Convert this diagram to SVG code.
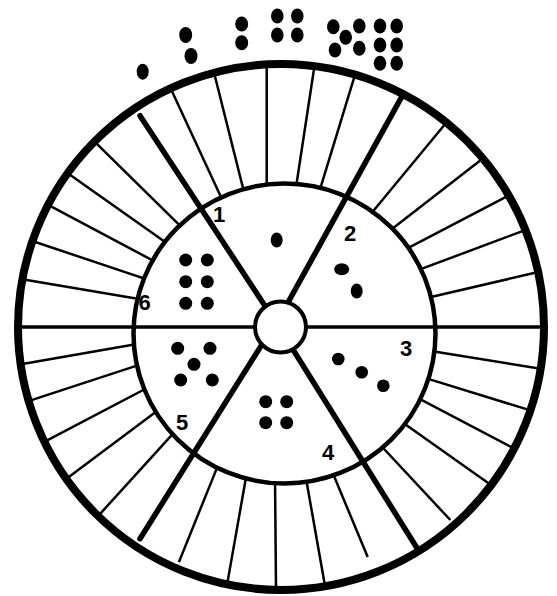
<svg xmlns="http://www.w3.org/2000/svg" width="557" height="596" viewBox="0 0 557 596">
<style>
.tick{stroke:#000;stroke-width:2.5;fill:none}
.spoke{stroke:#000;stroke-width:5.5;fill:none}
.dot{fill:#000}
.lbl{font-family:"Liberation Sans",Arial,sans-serif;font-weight:bold;font-size:22px;fill:#000;text-anchor:middle}
</style>
<rect width="557" height="596" fill="#fff"/>
<g id="ticks" class="tick">
<line x1="266.7" y1="66.3" x2="266.7" y2="191.7"/>
<line x1="214.3" y1="73.8" x2="245.1" y2="196.4"/>
<line x1="171.4" y1="90" x2="224.2" y2="204.1"/>
<line x1="96.1" y1="143.2" x2="184.8" y2="230.3"/>
<line x1="69.2" y1="174.3" x2="171.5" y2="246.5"/>
<line x1="49.1" y1="205.3" x2="158.8" y2="263.7"/>
<line x1="34.5" y1="241.7" x2="151.2" y2="280.9"/>
<line x1="23.7" y1="279.5" x2="144.9" y2="300"/>
<line x1="314.2" y1="67.7" x2="295.5" y2="190.6"/>
<line x1="354.6" y1="76.1" x2="318.4" y2="194.6"/>
<line x1="445.2" y1="124" x2="368.3" y2="217"/>
<line x1="481.5" y1="159.6" x2="388.1" y2="232.1"/>
<line x1="507" y1="196.3" x2="403.1" y2="250.6"/>
<line x1="523.8" y1="230.6" x2="415.3" y2="271.2"/>
<line x1="536.1" y1="272.5" x2="425.6" y2="298.3"/>
<line x1="22.5" y1="363.9" x2="139.9" y2="343.6"/>
<line x1="30.7" y1="400.4" x2="142.2" y2="363.9"/>
<line x1="46.2" y1="440.9" x2="148.9" y2="387"/>
<line x1="67.8" y1="477.7" x2="160.7" y2="408.3"/>
<line x1="99.7" y1="514.3" x2="176" y2="430.3"/>
<line x1="178.9" y1="562.1" x2="218.8" y2="463.4"/>
<line x1="227.6" y1="581.6" x2="246.7" y2="473.5"/>
<line x1="276" y1="587.3" x2="275" y2="476"/>
<line x1="324.8" y1="584.7" x2="305.3" y2="474.5"/>
<line x1="367.7" y1="557" x2="331.5" y2="470.1"/>
<line x1="450.3" y1="520" x2="378.5" y2="443"/>
<line x1="489.6" y1="483.9" x2="399.5" y2="420.2"/>
<line x1="512.8" y1="447.9" x2="414.8" y2="396.4"/>
<line x1="528.9" y1="409.9" x2="422.5" y2="377.1"/>
<line x1="539" y1="368.6" x2="427.8" y2="350.4"/>
</g>
<ellipse id="inner-circle" cx="284.5" cy="333.5" rx="151" ry="150" fill="#fff" stroke="#000" stroke-width="4.5"/>
<g id="spokes">
<line x1="15" y1="327" x2="547" y2="327" stroke="#000" stroke-width="3.5"/>
<line class="spoke" x1="140" y1="115.7" x2="268.8" y2="311.7" stroke-linecap="round"/>
<line class="spoke" x1="403.2" y1="94.2" x2="285.5" y2="307"/>
<line class="spoke" x1="291.7" y1="347.5" x2="419.3" y2="551.8"/>
<line class="spoke" x1="140" y1="538.7" x2="263.6" y2="341.8" stroke-linecap="round"/>
</g>
<circle id="hub" cx="280.5" cy="327" r="25.5" fill="#fff" stroke="#000" stroke-width="4"/>
<circle id="outer-circle" cx="281" cy="327" r="263" fill="none" stroke="#000" stroke-width="8"/>
<g id="sector-1">
<ellipse class="dot" cx="276.7" cy="240" rx="6" ry="7.5"/>
<text class="lbl" x="219" y="222">1</text>
</g>
<g id="sector-2">
<ellipse class="dot" cx="341.7" cy="269.3" rx="7.5" ry="6"/>
<ellipse class="dot" cx="356.7" cy="291" rx="6" ry="7.5"/>
<text class="lbl" x="350" y="241">2</text>
</g>
<g id="sector-3">
<circle class="dot" cx="338.3" cy="359" r="6.3"/>
<circle class="dot" cx="361.7" cy="372.3" r="6.3"/>
<circle class="dot" cx="383.3" cy="385.7" r="6.3"/>
<text class="lbl" x="406" y="356">3</text>
</g>
<g id="sector-4">
<circle class="dot" cx="265.7" cy="401.7" r="6.5"/>
<circle class="dot" cx="286.7" cy="401.7" r="6.5"/>
<circle class="dot" cx="265.7" cy="422.7" r="6.5"/>
<circle class="dot" cx="286.7" cy="422.7" r="6.5"/>
<text class="lbl" x="328" y="460">4</text>
</g>
<g id="sector-5">
<circle class="dot" cx="177.7" cy="348.3" r="6.5"/>
<circle class="dot" cx="210" cy="348.3" r="6.5"/>
<circle class="dot" cx="194" cy="364.3" r="6.5"/>
<circle class="dot" cx="180.7" cy="380" r="6.5"/>
<circle class="dot" cx="212.3" cy="380" r="6.5"/>
<text class="lbl" x="182" y="430">5</text>
</g>
<g id="sector-6">
<circle class="dot" cx="185.7" cy="260" r="6.5"/>
<circle class="dot" cx="207.3" cy="260" r="6.5"/>
<circle class="dot" cx="185.7" cy="281.7" r="6.5"/>
<circle class="dot" cx="207.3" cy="281.7" r="6.5"/>
<circle class="dot" cx="185.7" cy="303.3" r="6.5"/>
<circle class="dot" cx="207.3" cy="303.3" r="6.5"/>
<text class="lbl" x="144.5" y="310">6</text>
</g>
<g id="top-dots">
<ellipse class="dot" cx="142.7" cy="71.7" rx="6" ry="8"/>
<ellipse class="dot" cx="185.7" cy="35" rx="6.5" ry="8"/>
<ellipse class="dot" cx="191" cy="56" rx="6.5" ry="8"/>
<ellipse class="dot" cx="241.7" cy="24" rx="6.5" ry="7.5"/>
<ellipse class="dot" cx="241.7" cy="42.7" rx="6.5" ry="7.5"/>
<ellipse class="dot" cx="277.3" cy="16" rx="6.3" ry="7.5"/>
<ellipse class="dot" cx="297.3" cy="16" rx="6.3" ry="7.5"/>
<ellipse class="dot" cx="277.3" cy="35" rx="6.3" ry="7.5"/>
<ellipse class="dot" cx="297.3" cy="35" rx="6.3" ry="7.5"/>
<ellipse class="dot" cx="333.3" cy="26.7" rx="6.3" ry="7.5"/>
<ellipse class="dot" cx="359.3" cy="26" rx="6.3" ry="7.5"/>
<ellipse class="dot" cx="345.7" cy="37.3" rx="6.3" ry="7.5"/>
<ellipse class="dot" cx="335" cy="50" rx="6.3" ry="7.5"/>
<ellipse class="dot" cx="359.3" cy="48.3" rx="6.3" ry="7.5"/>
<ellipse class="dot" cx="380" cy="26" rx="6.3" ry="7.5"/>
<ellipse class="dot" cx="396.7" cy="26" rx="6.3" ry="7.5"/>
<ellipse class="dot" cx="380" cy="45" rx="6.3" ry="7.5"/>
<ellipse class="dot" cx="396.7" cy="45" rx="6.3" ry="7.5"/>
<ellipse class="dot" cx="380" cy="63.3" rx="6.3" ry="7.5"/>
<ellipse class="dot" cx="396.7" cy="63.3" rx="6.3" ry="7.5"/>
</g>
</svg>
